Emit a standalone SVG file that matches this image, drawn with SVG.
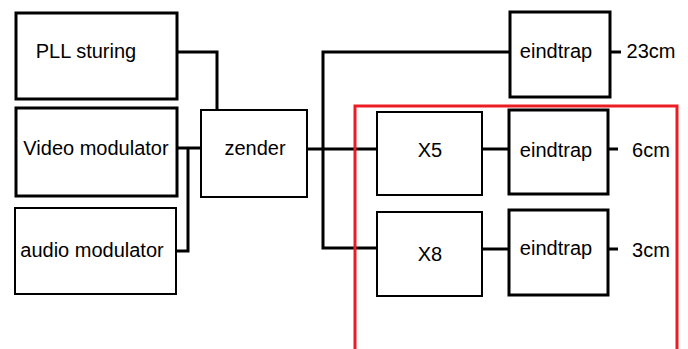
<svg xmlns="http://www.w3.org/2000/svg" width="688" height="349" viewBox="0 0 688 349">
<style>
.box{fill:#fff;stroke:#000;stroke-width:3}
.thin{stroke-width:2}
.t{font-family:"Liberation Sans",Arial,sans-serif;font-size:20px;fill:#000;text-anchor:middle}
.c{fill:none;stroke:#000;stroke-width:3}
</style>
<rect width="688" height="349" fill="#fff"/>
<g id="connectors">
<polyline class="c" points="177,52 217,52 217,110"/>
<line class="c" x1="177" y1="148" x2="201" y2="148"/>
<polyline class="c" points="176,251 188,251 188,148"/>
<line class="c" x1="307" y1="149" x2="377" y2="149"/>
<polyline class="c" points="510,52 323,52 323,248 377,248"/>
<line class="c" x1="482" y1="149" x2="509" y2="149"/>
<line class="c" x1="482" y1="249" x2="509" y2="249"/>
<line class="c" x1="610" y1="52" x2="621" y2="52"/>
<line class="c" x1="608" y1="149" x2="618" y2="149"/>
<line class="c" x1="608" y1="249" x2="618" y2="249"/>
</g>
<g id="red-frame"><polyline points="355,349 355,106 677,106 677,349" fill="none" stroke="#ed1c24" stroke-width="3"/></g>
<g id="pll"><rect class="box" x="16" y="13" width="161" height="86"/><text class="t" x="86" y="58">PLL sturing</text></g>
<g id="video"><rect class="box" x="16" y="108" width="161" height="88"/><text class="t" x="96" y="155">Video modulator</text></g>
<g id="audio"><rect class="box thin" x="15" y="208" width="161" height="86"/><text class="t" x="92" y="257">audio modulator</text></g>
<g id="zender"><rect class="box thin" x="201" y="110" width="106" height="87"/><text class="t" x="255" y="155">zender</text></g>
<g id="eindtrap1"><rect class="box" x="510" y="12" width="100" height="85"/><text class="t" x="556" y="58">eindtrap</text></g>
<g id="x5"><rect class="box thin" x="377" y="112" width="105" height="83"/><text class="t" x="430" y="157">X5</text></g>
<g id="eindtrap2"><rect class="box" x="509" y="110" width="99" height="84"/><text class="t" x="556" y="157">eindtrap</text></g>
<g id="x8"><rect class="box thin" x="377" y="212" width="105" height="84"/><text class="t" x="430" y="261">X8</text></g>
<g id="eindtrap3"><rect class="box" x="509" y="210" width="99" height="85"/><text class="t" x="556" y="255">eindtrap</text></g>
<g id="labels">
<text class="t" x="651" y="58">23cm</text>
<text class="t" x="651" y="157">6cm</text>
<text class="t" x="651" y="257">3cm</text>
</g>
</svg>
